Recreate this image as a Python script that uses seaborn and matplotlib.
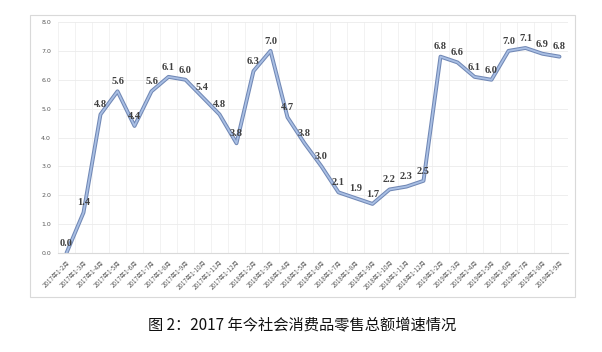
import numpy as np
import pandas as pd
import matplotlib
matplotlib.use("Agg")
import matplotlib.pyplot as plt
import seaborn as sns
from matplotlib.patches import Rectangle

# cumulative retail sales growth, per reporting period
periods_2017 = ["2017年1-2月", "2017年1-3月", "2017年1-4月", "2017年1-5月", "2017年1-6月",
                "2017年1-7月", "2017年1-8月", "2017年1-9月", "2017年1-10月", "2017年1-11月",
                "2017年1-12月"]
periods_2018 = ["2018年1-2月", "2018年1-3月", "2018年1-4月", "2018年1-5月", "2018年1-6月",
                "2018年1-7月", "2018年1-8月", "2018年1-9月", "2018年1-10月", "2018年1-11月",
                "2018年1-12月"]
periods_2019 = ["2019年1-2月", "2019年1-3月", "2019年1-4月", "2019年1-5月", "2019年1-6月",
                "2019年1-7月", "2019年1-8月", "2019年1-9月"]

growth_2017 = [0.0, 1.4, 4.8, 5.6, 4.4, 5.6, 6.1, 6.0, 5.4, 4.8, 3.8]
growth_2018 = [6.3, 7.0, 4.7, 3.8, 3.0, 2.1, 1.9, 1.7, 2.2, 2.3, 2.5]
growth_2019 = [6.8, 6.6, 6.1, 6.0, 7.0, 7.1, 6.9, 6.8]

y_ticks = [0, 1, 2, 3, 4, 5, 6, 7, 8]
caption = "图 2：2017 年今社会消费品零售总额增速情况"

df = pd.DataFrame({
    "period": periods_2017 + periods_2018 + periods_2019,
    "growth": growth_2017 + growth_2018 + growth_2019,
})

sns.set_style("white")
plt.rcParams["font.family"] = ["Noto Sans CJK SC", "DejaVu Sans"]

fig = plt.figure(figsize=(6.02, 3.52), dpi=100)
ax = fig.add_axes([58 / 602, 1 - 253 / 352, 510 / 602, 231 / 352])

# outer frame of the chart
fig.patches.append(Rectangle((30 / 602, 1 - 297 / 352), 545 / 602, 282 / 352,
                             transform=fig.transFigure, fill=False,
                             edgecolor="#D9D9D9", linewidth=0.8))

sns.lineplot(data=df, x="period", y="growth", sort=False, ax=ax,
             color="#7188B5", linewidth=2.8)
sns.lineplot(data=df, x="period", y="growth", sort=False, ax=ax,
             color="#A9BFE4", linewidth=1.3)

for i, (p, v) in enumerate(zip(df["period"], df["growth"])):
    ax.annotate(f"{v:.1f}", (i, v), xytext=(0, 7), textcoords="offset points",
                ha="center", va="center", fontsize=7.5, fontweight="bold",
                family="Liberation Serif", color="#404040")

n = len(df)
ax.set_xlim(-0.5, n - 0.5)
ax.set_ylim(0, 8)
ax.set_yticks(y_ticks)
ax.set_yticklabels([f"{t:.1f}" for t in y_ticks], fontsize=4.5, color="#595959",
                   family="DejaVu Sans")
ax.set_xticks(range(n))
ax.set_xticklabels(df["period"], rotation=45, ha="right", rotation_mode="anchor",
                   fontsize=4.5, color="#595959")
ax.set_xticks(np.arange(-0.5, n, 1), minor=True)
ax.tick_params(axis="both", which="both", length=0)
ax.tick_params(axis="y", pad=5)
ax.tick_params(axis="x", pad=4)

ax.grid(axis="y", which="major", color="#EBEBEB", linewidth=0.6)
ax.grid(axis="x", which="minor", color="#F0F0F0", linewidth=0.6)
ax.grid(axis="x", which="major", visible=False)
ax.set_axisbelow(True)
for s in ["top", "right", "left"]:
    ax.spines[s].set_visible(False)
ax.spines["bottom"].set_color("#D9D9D9")
ax.spines["bottom"].set_linewidth(0.8)
ax.set_xlabel("")
ax.set_ylabel("")

fig.text(302 / 602, 1 - 325 / 352, caption, ha="center", va="center",
         fontsize=11, color="#111111")

fig.savefig("out.png", dpi=100)
